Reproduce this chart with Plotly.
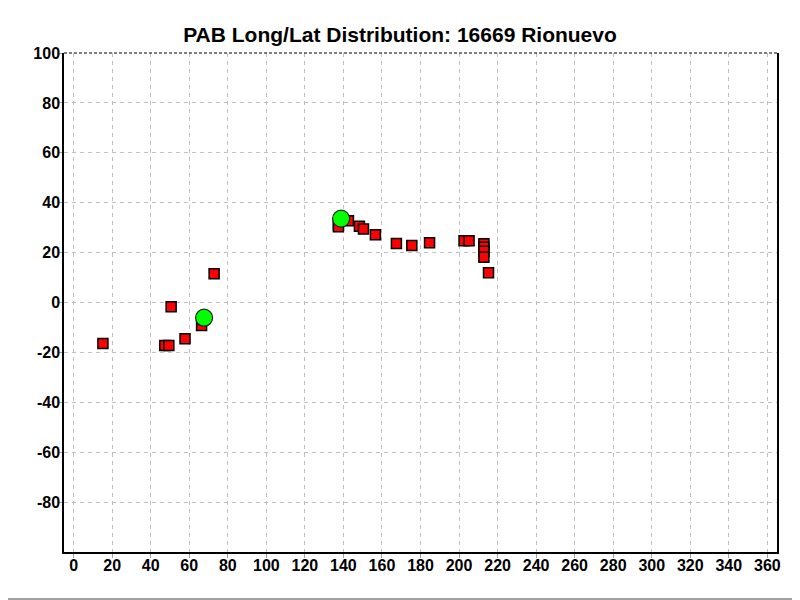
import plotly.graph_objects as go

# red squares (long, lat)
red_long = [15.2, 47.3, 49.4, 50.6, 57.8, 72.9, 66.4, 67.2,
            137.4, 137.4, 142.6, 148.3, 150.4, 156.6, 167.5, 175.5, 184.7,
            202.6, 205.2, 212.9, 212.9, 212.9, 212.9, 215.3]
red_lat = [-16.4, -17.2, -17.2, -1.7, -14.5, 11.5, -9.2, -6.8,
           31.2, 30.4, 32.8, 30.6, 29.5, 27.2, 23.6, 22.8, 23.9,
           24.7, 24.7, 23.5, 22.1, 20.5, 18.1, 11.9]

# green circles
green_long = [67.7, 138.8]
green_lat = [-6.1, 33.6]

x_ticks = list(range(0, 361, 20))
y_ticks = list(range(-80, 101, 20))
y_labels = [str(v) for v in y_ticks]  # plain hyphen minus like the original

font_family = "Arial, Liberation Sans, sans-serif"

fig = go.Figure()
fig.add_trace(go.Scatter(
    x=red_long, y=red_lat, mode="markers",
    marker=dict(symbol="square", size=10, color="#ff0000",
                line=dict(color="black", width=1.5)),
))
fig.add_trace(go.Scatter(
    x=green_long, y=green_lat, mode="markers",
    marker=dict(symbol="circle", size=17, color="#00ff00",
                line=dict(color="#202020", width=1.2)),
))

axis_common = dict(
    showgrid=True, gridcolor="#c0c0c0", griddash="4px,4px", gridwidth=1,
    ticks="outside", ticklen=4, tickcolor="#a0a0a0",
    tickfont=dict(family=font_family, size=16, color="black", weight="bold"),
    zeroline=False, showline=True, linecolor="black", linewidth=1.5,
)

fig.update_xaxes(range=[-5, 365], tickvals=x_ticks, ticklabelstandoff=-6, **axis_common)
fig.update_yaxes(range=[-100, 100], tickvals=y_ticks, ticktext=y_labels, mirror=True,
                 ticklabelstandoff=-5, **axis_common)

# dashed top border of the plot area
fig.add_shape(type="line", xref="paper", yref="paper", x0=0, x1=1, y0=1, y1=1,
              line=dict(color="black", width=1.2, dash="3px,2px"))
# grey frame on right and bottom of the image
fig.add_shape(type="line", xref="paper", yref="paper", x0=1.029, x1=1.029, y0=-0.094, y1=1.1,
              line=dict(color="#a0a0a0", width=2))
fig.add_shape(type="line", xref="paper", yref="paper", x0=-0.08, x1=1.029, y0=-0.094, y1=-0.094,
              line=dict(color="#a0a0a0", width=2))

fig.update_layout(
    width=800, height=600,
    title=dict(text="PAB Long/Lat Distribution: 16669 Rionuevo", x=0.49, xanchor="center",
               y=0.955, yanchor="middle",
               font=dict(family=font_family, size=21, color="black", weight="bold")),
    showlegend=False,
    plot_bgcolor="white", paper_bgcolor="white",
    margin=dict(l=56, r=31, t=45, b=56),
)

fig.write_html("out.html")
